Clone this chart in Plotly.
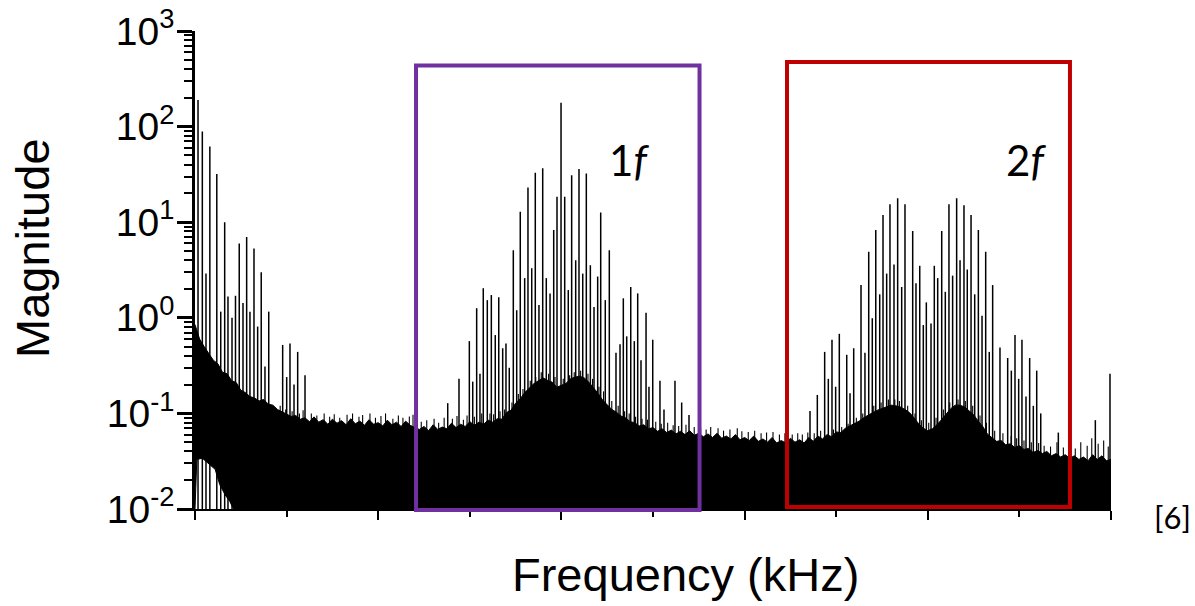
import plotly.graph_objects as go

# ---- spectrum data (frequency in axis units, magnitude linear) ----
# upper edge of the broadband noise floor, one row per half unit
floor_freq = [0.00, 0.05, 0.10, 0.15, 0.20, 0.25, 0.30, 0.35, 0.40, 0.45,
              0.50, 0.55, 0.60, 0.65, 0.70, 0.75, 0.80, 0.85, 0.90, 0.95,
              1.00, 1.05, 1.10, 1.15, 1.20, 1.25, 1.30, 1.35, 1.40, 1.45,
              1.50, 1.55, 1.60, 1.65, 1.70, 1.75, 1.80, 1.85, 1.90, 1.95,
              2.00, 2.05, 2.10, 2.15, 2.20, 2.25, 2.30, 2.35, 2.40, 2.45,
              2.50, 2.55, 2.60, 2.65, 2.70, 2.75, 2.80, 2.85, 2.90, 2.95,
              3.00, 3.05, 3.10, 3.15, 3.20, 3.25, 3.30, 3.35, 3.40, 3.45,
              3.50, 3.55, 3.60, 3.65, 3.70, 3.75, 3.80, 3.85, 3.90, 3.95,
              4.00, 4.05, 4.10, 4.15, 4.20, 4.25, 4.30, 4.35, 4.40, 4.45,
              4.50, 4.55, 4.60, 4.65, 4.70, 4.75, 4.80, 4.85, 4.90, 4.95,
              5.00, 5.05, 5.10, 5.15, 5.20, 5.25, 5.30, 5.35, 5.40, 5.45,
              5.50, 5.55, 5.60, 5.65, 5.70, 5.75, 5.80, 5.85, 5.90, 5.95,
              6.00, 6.05, 6.10, 6.15, 6.20, 6.25, 6.30, 6.35, 6.40, 6.45,
              6.50, 6.55, 6.60, 6.65, 6.70, 6.75, 6.80, 6.85, 6.90, 6.95,
              7.00, 7.05, 7.10, 7.15, 7.20, 7.25, 7.30, 7.35, 7.40, 7.45,
              7.50, 7.55, 7.60, 7.65, 7.70, 7.75, 7.80, 7.85, 7.90, 7.95,
              8.00, 8.05, 8.10, 8.15, 8.20, 8.25, 8.30, 8.35, 8.40, 8.45,
              8.50, 8.55, 8.60, 8.65, 8.70, 8.75, 8.80, 8.85, 8.90, 8.95,
              9.00, 9.05, 9.10, 9.15, 9.20, 9.25, 9.30, 9.35, 9.40, 9.45,
              9.50, 9.55, 9.60, 9.65, 9.70, 9.75, 9.80, 9.85, 9.90, 9.95, 10.0]
floor_top = [0.85, 0.60, 0.50, 0.42, 0.36, 0.33, 0.27, 0.26, 0.22, 0.21,
             0.175, 0.165, 0.150, 0.145, 0.135, 0.140, 0.125, 0.122, 0.110, 0.104,
             0.098, 0.093, 0.095, 0.087, 0.090, 0.082, 0.092, 0.081, 0.086, 0.077,
             0.087, 0.079, 0.084, 0.076, 0.088, 0.078, 0.083, 0.075, 0.086, 0.077,
             0.080, 0.074, 0.085, 0.076, 0.081, 0.073, 0.083, 0.075, 0.071, 0.068,
             0.073, 0.066, 0.076, 0.068, 0.072, 0.069, 0.079, 0.071, 0.077, 0.073,
             0.082, 0.075, 0.081, 0.077, 0.085, 0.081, 0.088, 0.087, 0.102, 0.108,
             0.128, 0.142, 0.165, 0.185, 0.205, 0.220, 0.235, 0.222, 0.212, 0.188,
             0.196, 0.206, 0.230, 0.240, 0.245, 0.235, 0.212, 0.186, 0.162, 0.138,
             0.122, 0.110, 0.103, 0.094, 0.090, 0.082, 0.080, 0.074, 0.076, 0.069,
             0.071, 0.065, 0.069, 0.063, 0.067, 0.061, 0.065, 0.060, 0.066, 0.059,
             0.062, 0.057, 0.061, 0.056, 0.062, 0.055, 0.058, 0.054, 0.060, 0.053,
             0.056, 0.052, 0.058, 0.051, 0.054, 0.050, 0.056, 0.049, 0.052, 0.049,
             0.055, 0.050, 0.053, 0.049, 0.056, 0.051, 0.058, 0.054, 0.060, 0.057,
             0.064, 0.063, 0.070, 0.074, 0.078, 0.083, 0.090, 0.095, 0.102, 0.108,
             0.112, 0.117, 0.122, 0.120, 0.117, 0.110, 0.102, 0.090, 0.078, 0.070,
             0.066, 0.069, 0.076, 0.086, 0.098, 0.112, 0.122, 0.122, 0.117, 0.107,
             0.097, 0.083, 0.073, 0.061, 0.056, 0.051, 0.052, 0.047, 0.048, 0.044,
             0.046, 0.042, 0.043, 0.039, 0.041, 0.038, 0.040, 0.036, 0.038, 0.035,
             0.037, 0.034, 0.036, 0.033, 0.035, 0.032, 0.037, 0.033, 0.036, 0.032, 0.033]

# lower edge of the noise floor (it only lifts off the axis near DC)
floor_low_freq = [10.0, 0.42, 0.38, 0.33, 0.27, 0.22, 0.15, 0.08, 0.02, 0.0]
floor_low = [0.01, 0.01, 0.012, 0.014, 0.018, 0.026, 0.030, 0.034, 0.033, 0.01]

# short noise spikes poking above the floor
noise_freq = [0.93, 0.99, 1.06, 1.14, 1.18, 1.27, 1.33, 1.41, 1.47, 1.52,
              1.58, 1.66, 1.72, 1.79, 1.83, 1.91, 1.97, 2.03, 2.08, 2.16,
              2.22, 2.27, 2.34, 2.38, 2.47, 2.53, 2.61, 2.66, 2.72, 2.81,
              2.86, 2.93, 2.97, 3.05, 3.13, 3.22, 3.26, 3.33, 3.38, 3.46,
              3.53, 3.58, 3.66, 3.72, 3.78, 3.86, 3.93, 4.02, 4.09, 4.14,
              4.21, 4.29, 4.34, 4.41, 4.46, 4.55, 4.62, 4.69, 4.74, 4.81,
              4.88, 4.94, 5.03, 5.09, 5.16, 5.22, 5.28, 5.36, 5.45, 5.52,
              5.58, 5.63, 5.71, 5.77, 5.84, 5.92, 5.97, 6.04, 6.11, 6.18,
              6.24, 6.31, 6.38, 6.44, 6.52, 6.58, 6.63, 6.69, 6.76, 6.83,
              6.97, 7.06, 7.13, 7.22, 7.29, 7.41, 7.49, 7.57, 7.64, 7.69,
              7.78, 7.86, 7.93, 8.01, 8.09, 8.17, 8.24, 8.33, 8.41, 8.49,
              8.57, 8.64, 8.73, 8.82, 8.91, 8.97, 9.05, 9.13, 9.21, 9.27,
              9.34, 9.41, 9.48, 9.55, 9.61, 9.67, 9.74, 9.79, 9.86, 9.92, 9.97]
noise_mag = [0.120, 0.110, 0.105, 0.100, 0.108, 0.100, 0.095, 0.100, 0.092, 0.098,
             0.090, 0.097, 0.100, 0.092, 0.096, 0.100, 0.090, 0.094, 0.100, 0.088,
             0.095, 0.090, 0.093, 0.097, 0.082, 0.085, 0.088, 0.080, 0.090, 0.088,
             0.094, 0.086, 0.095, 0.092, 0.100, 0.100, 0.098, 0.105, 0.110, 0.130,
             0.160, 0.180, 0.220, 0.240, 0.270, 0.260, 0.240, 0.230, 0.250, 0.270,
             0.280, 0.260, 0.230, 0.190, 0.170, 0.135, 0.120, 0.105, 0.100, 0.092,
             0.088, 0.086, 0.082, 0.078, 0.080, 0.075, 0.074, 0.076, 0.072, 0.070,
             0.068, 0.072, 0.070, 0.066, 0.068, 0.070, 0.065, 0.064, 0.066, 0.062,
             0.063, 0.064, 0.060, 0.062, 0.060, 0.062, 0.060, 0.063, 0.062, 0.066,
             0.068, 0.072, 0.078, 0.090, 0.100, 0.120, 0.130, 0.140, 0.140, 0.135,
             0.120, 0.100, 0.085, 0.080, 0.090, 0.110, 0.130, 0.140, 0.135, 0.120,
             0.095, 0.080, 0.066, 0.062, 0.058, 0.055, 0.052, 0.050, 0.049, 0.046,
             0.045, 0.050, 0.044, 0.042, 0.043, 0.050, 0.046, 0.055, 0.048, 0.052, 0.045]

# discrete spectral lines: low-frequency, 1f band, 2f band
peak_freq = [0.033, 0.080, 0.120, 0.162, 0.238, 0.281, 0.324, 0.360, 0.404, 0.442,
             0.483, 0.524, 0.564, 0.600, 0.644, 0.684, 0.723, 0.764, 0.805, 0.957,
             1.001, 1.037, 1.081, 1.121, 1.201,
             2.759, 2.882, 2.995, 3.032, 3.075, 3.111, 3.147, 3.191, 3.235, 3.278,
             3.316, 3.359, 3.395, 3.431, 3.475, 3.512, 3.551, 3.599, 3.635, 3.676,
             3.715, 3.755, 3.796, 3.835, 3.876, 3.916, 3.952, 3.996, 4.036, 4.075,
             4.112, 4.156, 4.192, 4.233, 4.272, 4.316, 4.356, 4.396, 4.429, 4.479,
             4.523, 4.596, 4.640, 4.676, 4.713, 4.757, 4.796, 4.833, 4.869, 4.924,
             4.956, 4.997, 5.076, 5.120, 5.240, 5.313, 5.393,
             6.714, 6.794, 6.874, 6.914, 6.954, 6.994, 7.034, 7.115, 7.151, 7.191,
             7.271, 7.314, 7.355, 7.394, 7.432, 7.475, 7.511, 7.551, 7.587, 7.631,
             7.671, 7.715, 7.751, 7.835, 7.871, 7.912, 7.951, 7.984, 8.035, 8.071,
             8.108, 8.152, 8.191, 8.231, 8.271, 8.315, 8.352, 8.395, 8.431, 8.472,
             8.512, 8.552, 8.592, 8.632, 8.671, 8.708, 8.788, 8.872, 8.912, 8.952,
             8.992, 9.028, 9.072, 9.112, 9.152, 9.189, 9.233, 9.425, 9.829, 9.989]
peak_mag = [190, 89, 2.9, 62, 32, 1.16, 10, 1.67, 1.0, 1.7,
            6.0, 1.43, 7.0, 1.16, 5.3, 0.81, 3.0, 0.31, 1.16, 0.52,
            0.24, 0.54, 0.20, 0.44, 0.25,
            0.128, 0.23, 0.57, 0.215, 1.26, 0.26, 2.04, 1.53, 1.73, 0.66,
            1.64, 0.48, 0.54, 0.30, 5.1, 1.2, 12.9, 2.6, 23, 3.3,
            33, 1.36, 36.6, 2.6, 1.8, 8.3, 18.5, 178, 18.5, 1.95,
            31, 4.0, 36, 2.9, 32.4, 3.55, 1.3, 2.7, 12.6, 1.53,
            5.1, 0.43, 0.53, 1.6, 0.64, 2.1, 0.57, 1.8, 0.36, 1.13,
            0.19, 0.59, 0.22, 0.11, 0.22, 0.13, 0.096,
            0.106, 0.156, 0.44, 0.23, 0.59, 0.19, 0.68, 0.41, 0.162, 0.48,
            2.2, 0.43, 4.9, 0.99, 8.3, 1.76, 11.9, 2.9, 15.4, 3.6,
            17.8, 2.1, 15.4, 8.1, 2.3, 3.5, 0.84, 1.45, 0.87, 3.5,
            2.6, 8.1, 1.87, 15.4, 2.76, 17.8, 4.0, 15.0, 3.2, 11.9,
            1.76, 8.3, 1.05, 4.9, 0.44, 2.2, 0.49, 0.38, 0.28, 0.66,
            0.23, 0.59, 0.15, 0.38, 0.12, 0.28, 0.10, 0.063, 0.085, 0.26]

# axis settings
x_range = [0, 10]
x_major = [0, 2, 4, 6, 8, 10]
x_minor = [1, 3, 5, 7, 9]
y_major = [0.01, 0.1, 1, 10, 100, 1000]
y_labels = ["10<sup>-2</sup>", "10<sup>-1</sup>", "10<sup>0</sup>",
            "10<sup>1</sup>", "10<sup>2</sup>", "10<sup>3</sup>"]
y_minor = [m * d for d in [0.01, 0.1, 1, 10, 100] for m in range(2, 10)]

# frequency windows of the two harmonic bands
band_1f = [2.413, 5.508]
band_2f = [6.463, 9.552]

Y_MIN = y_major[0]


def stems(freqs, mags):
    """Vertical lines from the bottom of the axis up to each magnitude."""
    xs, ys = [], []
    for f, m in zip(freqs, mags):
        xs += [f, f, None]
        ys += [Y_MIN, m, None]
    return xs, ys


fig = go.Figure()

# noise floor as one closed black polygon
fig.add_trace(go.Scatter(
    x=floor_freq + floor_low_freq,
    y=floor_top + floor_low,
    mode="lines", fill="toself", fillcolor="black",
    line=dict(color="black", width=1), hoverinfo="skip", showlegend=False))

nx, ny = stems(noise_freq, noise_mag)
fig.add_trace(go.Scatter(
    x=nx, y=ny, mode="lines",
    line=dict(color="black", width=1.1), hoverinfo="skip", showlegend=False))

px, py = stems(peak_freq, peak_mag)
fig.add_trace(go.Scatter(
    x=px, y=py, mode="lines",
    line=dict(color="black", width=1.5), hoverinfo="skip", showlegend=False))

# band windows
fig.add_shape(type="rect", xref="x", yref="paper",
              x0=band_1f[0], x1=band_1f[1], y0=-0.002, y1=0.928,
              line=dict(color="#7030A0", width=4), fillcolor="rgba(0,0,0,0)")
fig.add_shape(type="rect", xref="x", yref="paper",
              x0=band_2f[0], x1=band_2f[1], y0=0.004, y1=0.935,
              line=dict(color="#C00000", width=4), fillcolor="rgba(0,0,0,0)")

label_font = dict(family="Lato", size=42, color="black")
fig.add_annotation(x=0.474, y=0.730, xref="paper", yref="paper",
                   xanchor="center", yanchor="middle",
                   text="1<i>f</i>", showarrow=False, font=label_font)
fig.add_annotation(x=0.907, y=0.730, xref="paper", yref="paper",
                   xanchor="center", yanchor="middle",
                   text="2<i>f</i>", showarrow=False, font=label_font)
fig.add_annotation(x=1.067, y=-0.016, xref="paper", yref="paper",
                   xanchor="center", yanchor="middle",
                   text="[6]", showarrow=False,
                   font=dict(family="Lato", size=31, color="black"))

# axis titles
title_font = dict(family="Liberation Sans, Arial, sans-serif", size=47, color="black")
fig.add_annotation(x=0.536, y=-0.136, xref="paper", yref="paper",
                   xanchor="center", yanchor="middle",
                   text="Frequency (kHz)", showarrow=False, font=title_font)
fig.add_annotation(x=-0.178, y=0.546, xref="paper", yref="paper",
                   xanchor="center", yanchor="middle",
                   text="Magnitude", textangle=-90, showarrow=False, font=title_font)

fig.update_layout(
    width=1195, height=606,
    margin=dict(l=195, r=84, t=31, b=97, autoexpand=False),
    paper_bgcolor="white", plot_bgcolor="white",
    showlegend=False,
    font=dict(family="Liberation Sans, Arial, sans-serif", color="black"),
    xaxis=dict(
        range=x_range, showgrid=False, zeroline=False, automargin=False,
        showline=True, linecolor="black", linewidth=2,
        tickmode="array", tickvals=x_major, showticklabels=False,
        ticks="outside", ticklen=9, tickwidth=2, tickcolor="black",
        minor=dict(tickmode="array", tickvals=x_minor, ticks="outside",
                   ticklen=6, tickwidth=2, tickcolor="black", showgrid=False),
    ),
    yaxis=dict(
        type="log", range=[-2, 3], showgrid=False, zeroline=False, automargin=False,
        showline=True, linecolor="black", linewidth=2.5,
        tickmode="array", tickvals=y_major, ticktext=y_labels,
        ticks="outside", ticklen=15, tickwidth=2.5, tickcolor="black",
        ticklabelstandoff=-5,
        tickfont=dict(family="Liberation Sans, Arial, sans-serif", size=39, color="black"),
        minor=dict(tickmode="array", tickvals=y_minor, ticks="outside",
                   ticklen=8, tickwidth=2, tickcolor="black", showgrid=False),
    ),
)

fig.write_html("out.html")
